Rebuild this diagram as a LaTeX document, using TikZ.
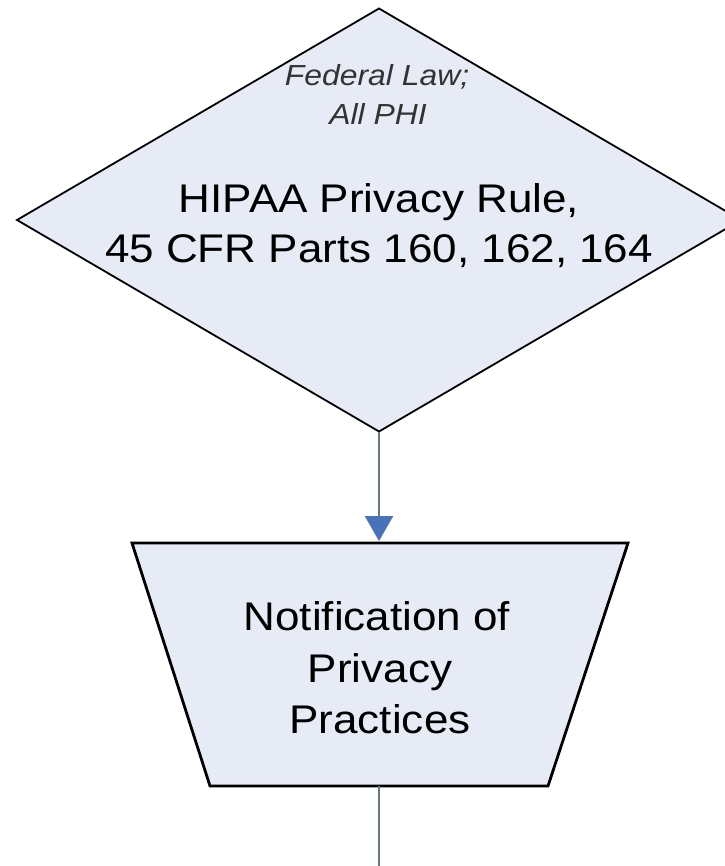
\documentclass[tikz,border=0pt]{standalone}
\usepackage{fontspec}
\usetikzlibrary{shapes.geometric,arrows.meta}
\newfontfamily\diafont[FakeStretch=1.1]{Liberation Sans}
\definecolor{shapefill}{HTML}{E6EBF5}
\definecolor{linkgray}{HTML}{667788}
\definecolor{arrowblue}{HTML}{4A72B8}
\definecolor{notegray}{HTML}{333333}
\begin{document}
\begin{tikzpicture}[x=1pt,y=-1pt,
  decisionbox/.style={diamond, draw=black, line width=1.8pt, fill=shapefill,
    minimum width=724pt, minimum height=423pt, inner sep=0pt, outer sep=0pt},
  manualbox/.style={draw=black, line width=2.8pt, fill=shapefill, line join=miter},
  maintext/.style={anchor=base, inner sep=0pt, font=\diafont\fontsize{40}{49}\selectfont},
  notetext/.style={anchor=base, inner sep=0pt, text=notegray,
    font=\diafont\itshape\fontsize{29}{39}\selectfont},
  link/.style={draw=linkgray, line width=2.6pt},
  linkarrow/.style={link, -{Triangle[width=28pt,length=25pt,color=arrowblue]}}
]
\useasboundingbox (0,0) rectangle (724,866);

% diamond
\node[decisionbox] (hipaa) at (379,220) {};
\node[notetext] (note1) at (377,86) {Federal Law;};
\node[notetext] (note2) at (378,125) {All PHI};
\node[maintext] (hipaa1) at (379,213) {HIPAA Privacy Rule,};
\node[maintext] (hipaa2) at (379,262) {45 CFR Parts 160, 162, 164};

% trapezoid
\coordinate (ntl) at (132,543);
\coordinate (ntr) at (628,543);
\coordinate (nbr) at (548,786);
\coordinate (nbl) at (210,786);
\coordinate (noticetop) at (379,541);
\coordinate (noticebot) at (379,786);
\path[manualbox] (ntl) -- (ntr) -- (nbr) -- (nbl) -- cycle;
\node[maintext] (notice1) at (377,630) {Notification of};
\node[maintext] (notice2) at (380,682) {Privacy};
\node[maintext] (notice3) at (380,733) {Practices};

% connectors
\coordinate (exit) at (379,870);
\draw[linkarrow] (hipaa.south) -- (noticetop);
\draw[link] (noticebot) -- (exit);
\end{tikzpicture}
\end{document}
